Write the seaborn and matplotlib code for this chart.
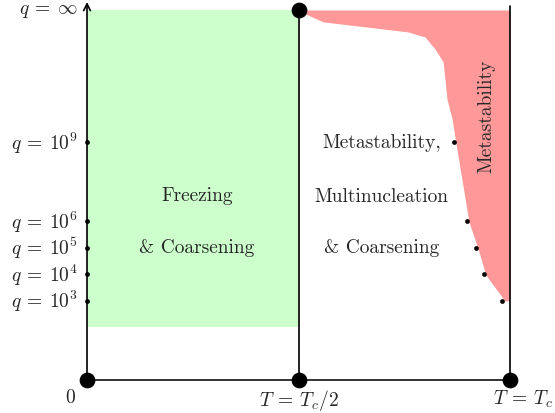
import matplotlib
matplotlib.use("Agg")
import matplotlib.pyplot as plt
import seaborn as sns
import pandas as pd

sns.set_theme(style="white")
plt.rcParams["font.family"] = ["cmr10", "DejaVu Serif"]
plt.rcParams["mathtext.fontset"] = "cm"
plt.rcParams["axes.formatter.use_mathtext"] = True

# q axis is drawn as log10(q); q = infinity sits at the top of the diagram
q_exponents = [3, 4, 5, 6, 9]
q_labels = [r"$q\:=\:10^{3}$", r"$q\:=\:10^{4}$", r"$q\:=\:10^{5}$",
            r"$q\:=\:10^{6}$", r"$q\:=\:10^{9}$"]
q_inf = 14.0
q_inf_label = r"$q\:=\:\infty$"

# temperature marks (in units of T_c)
t_marks = [0.0, 0.5, 1.0]
t_labels = ["0", r"$T\:=\:T_c/2$", r"$T\:=\:T_c$"]

# freezing & coarsening region
freeze_T = [0.0, 0.5]
freeze_q_low = 2.0

# metastability boundary measured at the q values above
meta_T_pts = [0.981, 0.939, 0.920, 0.898, 0.868]

# outline of the metastable region (T, log10 q)
meta_edge_T = [0.496, 0.558, 0.759, 0.799, 0.823, 0.842, 0.851, 0.863, 0.872,
               0.903, 0.924, 0.943, 0.988, 1.0]
meta_edge_q = [14.0, 13.55, 13.17, 12.98, 12.52, 12.03, 10.63, 9.88, 8.97,
               5.98, 4.99, 3.97, 2.99, 3.0]

fig = plt.figure(figsize=(5.55, 4.14), dpi=100)
ax = fig.add_axes([0, 0, 1, 1])
ax.set_xlim(-0.2057, 1.1064)
ax.set_ylim(-1.2486, 14.416)
ax.axis("off")

# regions
ax.fill_between(freeze_T, freeze_q_low, q_inf, color="#ccffcc", lw=0, zorder=1)
edge = pd.DataFrame({"T": meta_edge_T, "q": meta_edge_q})
ax.fill_betweenx(edge["q"], edge["T"], 1.0, color="#ff9999", lw=0, zorder=1)

# frame lines
ax.plot([0, 1], [0, 0], color="#333333", lw=1.4, zorder=2)
ax.plot([0.5, 0.5], [0, q_inf], color="#222222", lw=1.4, zorder=2)
ax.plot([1, 1], [0, q_inf + 0.15], color="black", lw=1.2, zorder=2)
ax.annotate("", xy=(0, q_inf + 0.3), xytext=(0, 0),
            arrowprops=dict(arrowstyle="->", color="black", lw=1.2,
                            shrinkA=0, shrinkB=0), zorder=2)

# corner markers
big = pd.DataFrame({"T": t_marks + [0.5], "q": [0, 0, 0, q_inf]})
sns.scatterplot(data=big, x="T", y="q", s=110, color="black",
                edgecolor="black", ax=ax, zorder=4, legend=False)

# q ticks on the axis and on the metastability boundary
ticks = pd.DataFrame({"T": [0.0] * len(q_exponents), "q": q_exponents})
sns.scatterplot(data=ticks, x="T", y="q", s=10, color="black",
                edgecolor="black", ax=ax, zorder=4, legend=False)
bnd = pd.DataFrame({"T": meta_T_pts, "q": q_exponents})
sns.scatterplot(data=bnd, x="T", y="q", s=10, color="black",
                edgecolor="black", ax=ax, zorder=4, legend=False)

fs = 14
for e, lab in zip(q_exponents, q_labels):
    ax.text(-0.022, e, lab, ha="right", va="center", fontsize=fs)
ax.text(-0.022, q_inf, q_inf_label, ha="right", va="center", fontsize=fs)

ax.text(-0.04, -0.65, t_labels[0], ha="center", va="center", fontsize=fs)
ax.text(0.5, -0.75, t_labels[1], ha="center", va="center", fontsize=fs)
ax.text(0.96, -0.68, t_labels[2], ha="left", va="center", fontsize=fs)

ax.text(0.26, 7.0, "Freezing", ha="center", va="center", fontsize=fs)
ax.text(0.26, 5.05, "& Coarsening", ha="center", va="center", fontsize=fs)
ax.text(0.697, 9.0, "Metastability,", ha="center", va="center", fontsize=fs)
ax.text(0.697, 6.95, "Multinucleation", ha="center", va="center", fontsize=fs)
ax.text(0.697, 5.05, "& Coarsening", ha="center", va="center", fontsize=fs)
ax.text(0.945, 10.0, "Metastability", ha="center", va="center",
        rotation=90, fontsize=fs)

fig.savefig("out.png", dpi=100)
